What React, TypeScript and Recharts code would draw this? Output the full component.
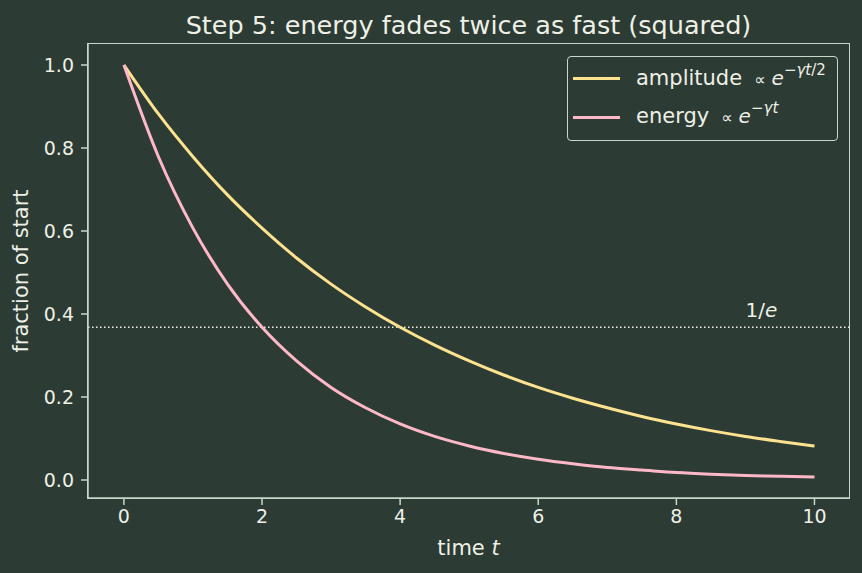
import React from "react";
import { LineChart, Line, XAxis, YAxis, ReferenceLine, ReferenceDot } from "recharts";

const timeValues = [0, 0.5, 1, 1.5, 2, 2.5, 3, 3.5, 4, 4.5, 5, 5.5, 6, 6.5, 7, 7.5, 8, 8.5, 9, 9.5, 10];
const amplitudeValues = [1.0, 0.882, 0.779, 0.687, 0.607, 0.535, 0.472, 0.417, 0.368, 0.325, 0.287, 0.253, 0.223, 0.197, 0.174, 0.153, 0.135, 0.119, 0.105, 0.093, 0.082];
const energyValues = [1.0, 0.779, 0.607, 0.472, 0.368, 0.287, 0.223, 0.174, 0.135, 0.105, 0.082, 0.064, 0.05, 0.039, 0.03, 0.024, 0.018, 0.014, 0.011, 0.009, 0.007];
const xTicks = [0, 2, 4, 6, 8, 10];
const yTicks = [0, 0.2, 0.4, 0.6, 0.8, 1.0];
const oneOverE = 0.368;
const labelPoint = { t: 9, y: 0.392 };

const data = timeValues.map((t, i) => ({ t, amplitude: amplitudeValues[i], energy: energyValues[i] }));

const BG = "#2c3b34";
const AX = "#c9d7cb";
const TXT = "#eef0e6";
const AMP = "#fde38f";
const ENE = "#ffb8c8";
const FONT = "'DejaVu Sans', sans-serif";

const YLabel = (props: any) => {
  const vb = props.viewBox || {};
  const cy = (vb.y || 0) + (vb.height || 0) / 2;
  return (
    <text x={28} y={cy} transform={`rotate(-90, 28, ${cy})`} textAnchor="middle" fill={TXT} fontSize={21} fontFamily={FONT}>
      fraction of start
    </text>
  );
};

const XLabel = (props: any) => {
  const vb = props.viewBox || {};
  const cx = (vb.x || 0) + (vb.width || 0) / 2;
  return (
    <text x={cx} y={555} textAnchor="middle" fill={TXT} fontSize={21} fontFamily={FONT}>
      time <tspan fontStyle="italic">t</tspan>
    </text>
  );
};

const EText = (p: any) => (
  <text x={p.cx} y={p.cy} fill={TXT} fontSize={20} fontFamily={FONT} textAnchor="start">
    1/<tspan fontStyle="italic">e</tspan>
  </text>
);

const supStyle: React.CSSProperties = { fontSize: 15, position: "relative", top: -10 };
const propStyle: React.CSSProperties = { fontSize: 16, marginLeft: 12 };

export default function App() {
  return (
    <div style={{ position: "fixed", left: 0, top: 0, width: 862, height: 573, background: BG, fontFamily: FONT }}>
      <div style={{ position: "absolute", left: 88, width: 761, top: 8.5, textAlign: "center", color: TXT, fontSize: 25.5, lineHeight: "32px", whiteSpace: "nowrap" }}>
        Step 5: energy fades twice as fast (squared)
      </div>
      <LineChart width={862} height={573} data={data} margin={{ top: 44, right: 13, bottom: 0, left: 0 }}>
        <XAxis
          dataKey="t"
          type="number"
          domain={[-0.52, 10.5]}
          ticks={xTicks}
          allowDataOverflow
          height={75}
          stroke={AX}
          strokeWidth={1.5}
          tickSize={7}
          tickMargin={5}
          tick={{ fill: TXT, fontSize: 19, fontFamily: FONT }}
          tickLine={{ stroke: AX, strokeWidth: 1.5 }}
          label={<XLabel />}
        />
        <YAxis
          type="number"
          domain={[-0.0434, 1.0506]}
          ticks={yTicks}
          allowDataOverflow
          width={88}
          stroke={AX}
          strokeWidth={1.5}
          tickSize={7}
          tickMargin={7}
          tickFormatter={(v: number) => v.toFixed(1)}
          tick={{ fill: TXT, fontSize: 19, fontFamily: FONT }}
          tickLine={{ stroke: AX, strokeWidth: 1.5 }}
          label={<YLabel />}
        />
        <ReferenceLine y={oneOverE} stroke={TXT} strokeWidth={1.5} strokeDasharray="1.5 2.5" />
        <ReferenceDot x={labelPoint.t} y={labelPoint.y} r={0} shape={EText} />
        <Line type="monotone" dataKey="amplitude" stroke={AMP} strokeWidth={3} dot={false} isAnimationActive={false} />
        <Line type="monotone" dataKey="energy" stroke={ENE} strokeWidth={3} dot={false} isAnimationActive={false} />
      </LineChart>
      <div style={{ position: "absolute", left: 87.25, top: 43.25, width: 761, height: 454, border: `1.5px solid ${AX}`, pointerEvents: "none" }} />
      <div style={{ position: "absolute", left: 567, top: 56, width: 269, height: 83, border: `1.5px solid ${AX}`, borderRadius: 4, color: TXT, fontSize: 21 }}>
        <div style={{ position: "absolute", left: 5, top: 20, width: 47, height: 3, background: AMP }} />
        <div style={{ position: "absolute", left: 68, top: 3, whiteSpace: "nowrap", lineHeight: "36px" }}>
          amplitude<span style={propStyle}>∝</span><i style={{ marginLeft: 6, fontSize: 20 }}>e</i>
          <span style={supStyle}>−<i>γt</i>/2</span>
        </div>
        <div style={{ position: "absolute", left: 5, top: 59, width: 47, height: 3, background: ENE }} />
        <div style={{ position: "absolute", left: 68, top: 41, whiteSpace: "nowrap", lineHeight: "36px" }}>
          energy<span style={propStyle}>∝</span><i style={{ marginLeft: 6, fontSize: 20 }}>e</i>
          <span style={supStyle}>−<i>γt</i></span>
        </div>
      </div>
    </div>
  );
}
